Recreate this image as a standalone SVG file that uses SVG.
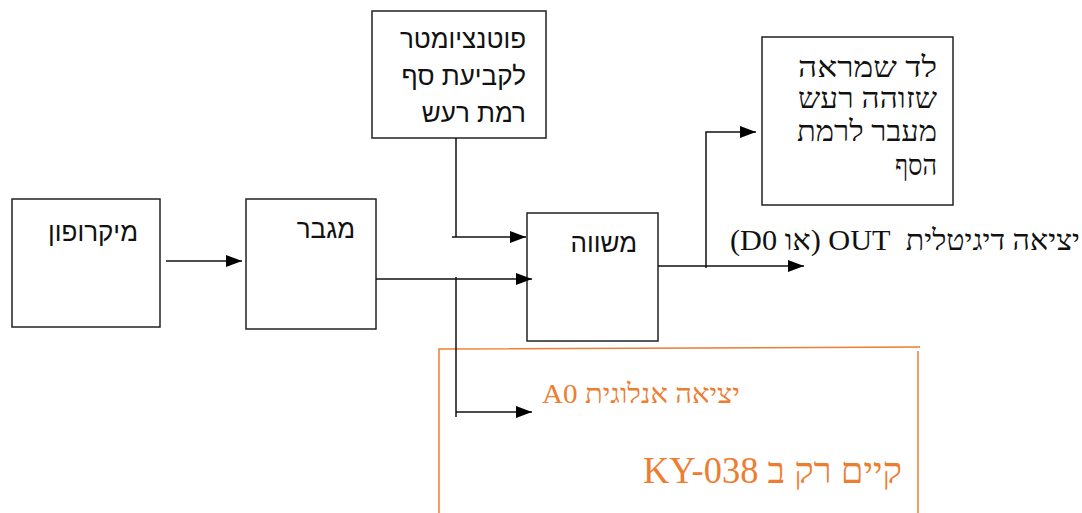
<svg xmlns="http://www.w3.org/2000/svg" width="1082" height="513" viewBox="0 0 1082 513">
<defs>
<marker id="arr" markerUnits="userSpaceOnUse" markerWidth="18" markerHeight="14" refX="16" refY="7" orient="auto">
<path d="M0,1 L16,7 L0,13 z" fill="#000"/>
</marker>
<style>
.box{fill:#fff;stroke:#222;stroke-width:1.5}
.sans{font-family:"Liberation Sans","DejaVu Sans",sans-serif;font-size:26px;fill:#111}
.serif{font-family:"Liberation Serif","DejaVu Serif",serif;fill:#111}
.line{fill:none;stroke:#111;stroke-width:1.5}
.orange{fill:none;stroke:#ED7D31;stroke-width:1.5}
.otext{font-family:"Liberation Serif","DejaVu Serif",serif;fill:#ED7D31}
</style>
</defs>
<rect width="1082" height="513" fill="#fff"/>
<g id="microphone">
<rect class="box" x="12" y="199" width="148" height="128"/>
<text class="sans" x="138" y="241" direction="rtl" text-anchor="start">מיקרופון</text>
</g>
<g id="amplifier">
<rect class="box" x="246" y="199" width="130" height="130"/>
<text class="sans" x="355" y="238" direction="rtl" text-anchor="start">מגבר</text>
</g>
<g id="potentiometer">
<rect class="box" x="372" y="11" width="174" height="127"/>
<text class="sans" direction="rtl" text-anchor="start"><tspan x="526" y="48">פוטנציומטר</tspan><tspan x="526" y="85">לקביעת סף</tspan><tspan x="526" y="122">רמת רעש</tspan></text>
</g>
<g id="comparator">
<rect class="box" x="527" y="213" width="131" height="128"/>
<text class="sans" x="637" y="252" direction="rtl" text-anchor="start">משווה</text>
</g>
<g id="led">
<rect class="box" x="762" y="37" width="191" height="168"/>
<text class="serif" font-size="29" x="937" y="77" direction="rtl" text-anchor="start" textLength="139" lengthAdjust="spacingAndGlyphs">לד שמראה</text>
<text class="serif" font-size="29" x="937" y="108" direction="rtl" text-anchor="start" textLength="139" lengthAdjust="spacingAndGlyphs">שזוהה רעש</text>
<text class="serif" font-size="29" x="937" y="141" direction="rtl" text-anchor="start" textLength="140" lengthAdjust="spacingAndGlyphs">מעבר לרמת</text>
<text class="serif" font-size="29" x="937" y="175" direction="rtl" text-anchor="start" textLength="42" lengthAdjust="spacingAndGlyphs">הסף</text>
</g>
<g id="digital-out">
<text class="serif" font-size="29" x="1080" y="250" direction="rtl" text-anchor="start" xml:space="preserve" textLength="350" lengthAdjust="spacingAndGlyphs">יציאה דיגיטלית  OUT (או D0)</text>
</g>
<g id="ky038-area">
<path class="orange" d="M439,513 V349 L920,347 M918,351 V513"/>
<text class="otext" font-size="27" x="740" y="403" direction="rtl" text-anchor="start" textLength="198" lengthAdjust="spacingAndGlyphs">יציאה אנלוגית A0</text>
<text class="otext" font-size="37" x="902" y="483" direction="rtl" text-anchor="start" textLength="259" lengthAdjust="spacingAndGlyphs">קיים רק ב KY-038</text>
</g>
<g id="connectors">
<path class="line" d="M166,261 H242" marker-end="url(#arr)"/>
<path class="line" d="M376,279 H532" marker-end="url(#arr)"/>
<path class="line" d="M456,138 V237"/>
<path class="line" d="M452,237 H526" marker-end="url(#arr)"/>
<path class="line" d="M456,277 V417"/>
<path class="line" d="M456,412 H532" marker-end="url(#arr)"/>
<path class="line" d="M658,266 H804" marker-end="url(#arr)"/>
<path class="line" d="M706,268 V132 H756" marker-end="url(#arr)"/>
</g>
</svg>
